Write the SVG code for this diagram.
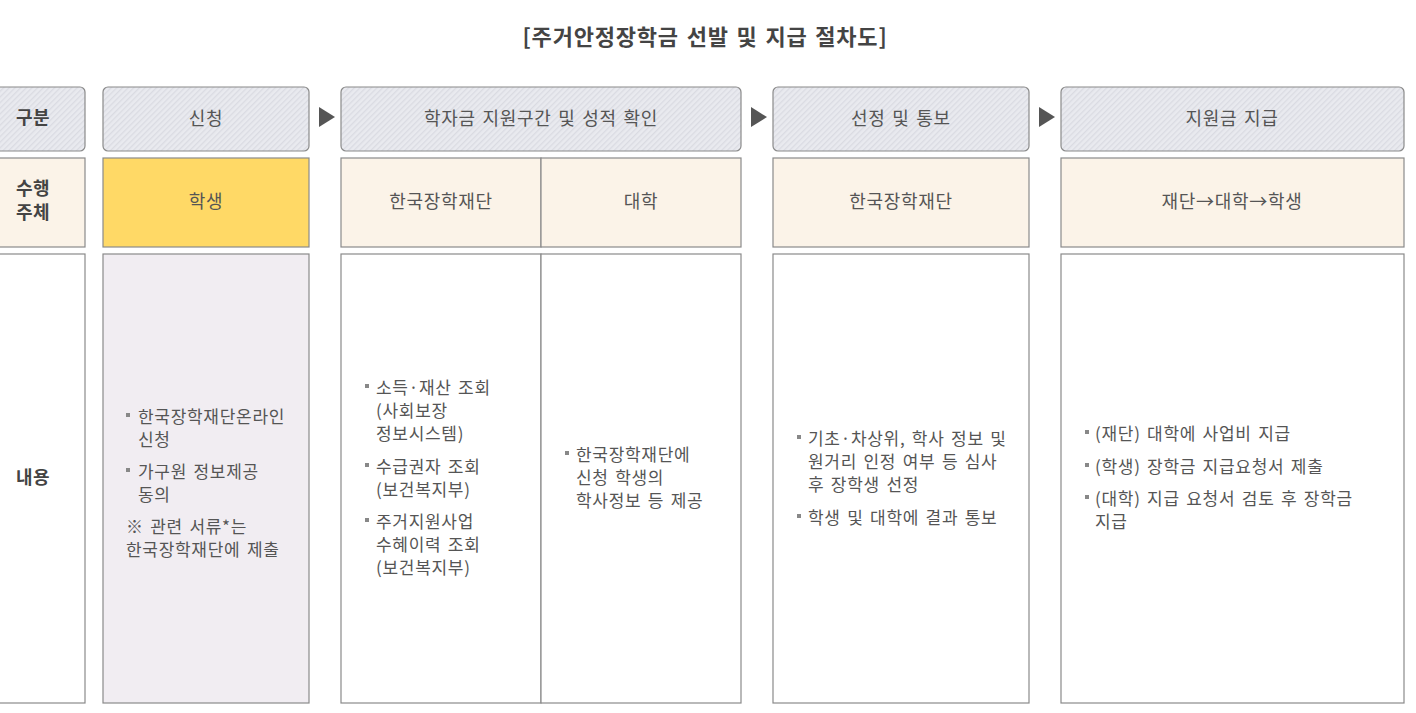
<svg xmlns="http://www.w3.org/2000/svg" width="1416" height="713" viewBox="0 0 1416 713">
<defs>
<pattern id="hatch" width="4" height="4" patternUnits="userSpaceOnUse" patternTransform="rotate(45)">
<rect width="4" height="4" fill="#e9eaef"/>
<rect width="1.3" height="4" fill="#dadbe2"/>
</pattern>
</defs>
<style>
text{font-family:"Noto Sans CJK KR","Noto Sans",sans-serif;fill:#555;}
.t{font-size:22px;font-weight:bold;fill:#444;text-anchor:middle;letter-spacing:0.8px;word-spacing:2px;}
.h{fill:url(#hatch);stroke:#8a8a8a;stroke-width:1.2;}
.w{fill:#fbf3e8;stroke:#8a8a8a;stroke-width:1.2;}
.y{fill:#ffd966;stroke:#8a8a8a;stroke-width:1.2;}
.c{fill:#ffffff;stroke:#8a8a8a;stroke-width:1.2;}
.p{fill:#f1edf2;stroke:#8a8a8a;stroke-width:1.2;}
.hl{font-size:18px;text-anchor:middle;letter-spacing:0.7px;word-spacing:2px;}
.lb{font-size:18px;font-weight:bold;fill:#444;text-anchor:middle;letter-spacing:0.5px;}
.b{font-size:17px;letter-spacing:0.7px;word-spacing:2px;}
.bu{fill:#888;}
.ar{fill:#555;}
</style>
<rect width="1416" height="713" fill="#ffffff"/>
<text class="t" x="705" y="45">[주거안정장학금 선발 및 지급 절차도]</text>

<g id="label-col">
<rect class="h" x="-10" y="87" width="95" height="64" rx="5"/>
<text class="lb" x="33" y="124">구분</text>
<rect class="w" x="-10" y="158" width="95" height="89"/>
<text class="lb" x="33" y="195">수행</text>
<text class="lb" x="33" y="219">주체</text>
<rect class="c" x="-10" y="254" width="95" height="449"/>
<text class="lb" x="33" y="484">내용</text>
</g>

<g id="step1">
<rect class="h" x="103" y="87" width="206" height="64" rx="5"/>
<text class="hl" x="206" y="125">신청</text>
<rect class="y" x="103" y="158" width="206" height="89"/>
<text class="hl" x="206" y="208">학생</text>
<rect class="p" x="103" y="254" width="206" height="449"/>
<rect class="bu" x="126" y="413" width="4" height="4"/>
<text class="b" x="138" y="423">한국장학재단온라인</text>
<text class="b" x="138" y="446">신청</text>
<rect class="bu" x="126" y="468" width="4" height="4"/>
<text class="b" x="138" y="478">가구원 정보제공</text>
<text class="b" x="138" y="501">동의</text>
<text class="b" x="126" y="533">※ 관련 서류*는</text>
<text class="b" x="126" y="556">한국장학재단에 제출</text>
</g>

<g id="step2">
<rect class="h" x="341" y="87" width="400" height="64" rx="5"/>
<text class="hl" x="541" y="125">학자금 지원구간 및 성적 확인</text>
<rect class="w" x="341" y="158" width="200" height="89"/>
<text class="hl" x="441" y="208">한국장학재단</text>
<rect class="w" x="541" y="158" width="200" height="89"/>
<text class="hl" x="641" y="208">대학</text>
<rect class="c" x="341" y="254" width="200" height="449"/>
<rect class="c" x="541" y="254" width="200" height="449"/>
<rect class="bu" x="365" y="384" width="4" height="4"/>
<text class="b" x="376" y="394">소득·재산 조회</text>
<text class="b" x="376" y="417">(사회보장</text>
<text class="b" x="376" y="440">정보시스템)</text>
<rect class="bu" x="365" y="463" width="4" height="4"/>
<text class="b" x="376" y="473">수급권자 조회</text>
<text class="b" x="376" y="496">(보건복지부)</text>
<rect class="bu" x="365" y="518" width="4" height="4"/>
<text class="b" x="376" y="528">주거지원사업</text>
<text class="b" x="376" y="551">수혜이력 조회</text>
<text class="b" x="376" y="574">(보건복지부)</text>
<rect class="bu" x="565" y="451" width="4" height="4"/>
<text class="b" x="576" y="461">한국장학재단에</text>
<text class="b" x="576" y="484">신청 학생의</text>
<text class="b" x="576" y="507">학사정보 등 제공</text>
</g>

<g id="step3">
<rect class="h" x="773" y="87" width="256" height="64" rx="5"/>
<text class="hl" x="901" y="125">선정 및 통보</text>
<rect class="w" x="773" y="158" width="256" height="89"/>
<text class="hl" x="901" y="208">한국장학재단</text>
<rect class="c" x="773" y="254" width="256" height="449"/>
<rect class="bu" x="797" y="435" width="4" height="4"/>
<text class="b" x="808" y="445">기초·차상위, 학사 정보 및</text>
<text class="b" x="808" y="468">원거리 인정 여부 등 심사</text>
<text class="b" x="808" y="491">후 장학생 선정</text>
<rect class="bu" x="797" y="514" width="4" height="4"/>
<text class="b" x="808" y="524">학생 및 대학에 결과 통보</text>
</g>

<g id="step4">
<rect class="h" x="1061" y="87" width="343" height="64" rx="5"/>
<text class="hl" x="1232" y="125">지원금 지급</text>
<rect class="w" x="1061" y="158" width="343" height="89"/>
<text class="hl" x="1232" y="208">재단→대학→학생</text>
<rect class="c" x="1061" y="254" width="343" height="449"/>
<rect class="bu" x="1085" y="430" width="4" height="4"/>
<text class="b" x="1095" y="440">(재단) 대학에 사업비 지급</text>
<rect class="bu" x="1085" y="463" width="4" height="4"/>
<text class="b" x="1095" y="473">(학생) 장학금 지급요청서 제출</text>
<rect class="bu" x="1085" y="495" width="4" height="4"/>
<text class="b" x="1095" y="505">(대학) 지급 요청서 검토 후 장학금</text>
<text class="b" x="1095" y="528">지급</text>
</g>

<g id="connectors">
<polygon class="ar" points="319,107 335,117 319,127"/>
<polygon class="ar" points="751,107 767,117 751,127"/>
<polygon class="ar" points="1039,107 1055,117 1039,127"/>
</g>
</svg>
